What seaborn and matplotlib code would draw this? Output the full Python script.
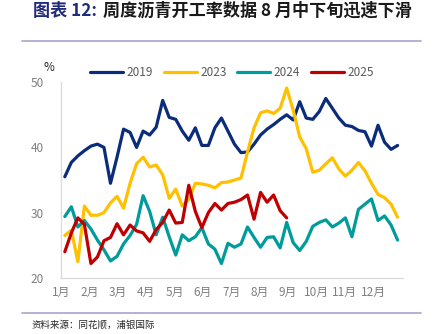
import numpy as np
import pandas as pd
import matplotlib
matplotlib.use("Agg")
import matplotlib.pyplot as plt
import seaborn as sns

# ---------------- data ----------------
years = ["2019", "2023", "2024", "2025"]
month_labels = ["1月", "2月", "3月", "4月", "5月", "6月", "7月", "8月", "9月", "10月", "11月", "12月"]

v2019 = [35.5, 37.7, 38.7, 39.5, 40.2, 40.5, 40.0, 34.5, 38.5, 42.8, 42.3, 40.0, 42.5,
         41.9, 43.1, 47.2, 44.6, 44.3, 42.5, 41.1, 43.0, 40.3, 40.3, 43.0, 44.5, 42.5,
         40.5, 39.2, 39.3, 40.5, 41.9, 42.8, 43.5, 44.3, 45.0, 44.2, 47.0, 44.5, 44.3,
         45.5, 47.5, 46.0, 44.5, 43.4, 43.2, 42.6, 42.4, 40.2, 43.4, 40.8, 39.7, 40.3]
v2023 = [26.5, 27.3, 22.5, 31.0, 29.6, 29.6, 30.0, 31.5, 32.5, 30.7, 34.5, 37.5, 38.5,
         37.0, 37.3, 35.8, 32.2, 33.6, 31.0, 32.0, 34.5, 34.4, 34.2, 33.8, 34.6, 34.7,
         35.0, 35.3, 39.3, 43.0, 45.3, 45.6, 45.2, 46.0, 49.1, 45.7, 41.6, 39.8, 36.2,
         36.5, 37.5, 38.4, 36.7, 35.6, 36.5, 37.7, 36.4, 34.5, 32.8, 32.3, 31.3, 29.3]
v2024 = [29.4, 30.9, 27.8, 28.8, 27.5, 25.8, 24.3, 22.6, 23.3, 25.2, 26.5, 28.2, 32.6,
         30.2, 26.6, 29.3, 26.3, 23.5, 26.6, 25.7, 26.3, 27.7, 25.2, 24.4, 22.2, 25.3,
         24.7, 25.2, 27.8, 26.2, 24.7, 26.2, 26.3, 24.6, 28.5, 25.4, 24.2, 25.6, 27.9,
         28.5, 28.9, 27.8, 28.4, 29.2, 26.3, 30.5, 31.3, 32.1, 28.8, 29.5, 28.1, 25.8]
v2025 = [24.0, 26.9, 29.2, 28.2, 22.2, 23.2, 25.7, 26.2, 28.3, 26.6, 28.1, 27.2, 26.9,
         25.6, 27.4, 28.5, 30.4, 28.4, 28.5, 34.2, 30.2, 27.7, 30.0, 31.4, 30.4, 31.4,
         31.6, 32.0, 32.7, 29.0, 33.1, 31.6, 32.7, 30.3, 29.2]

series = {"2019": v2019, "2023": v2023, "2024": v2024, "2025": v2025}
frames = []
for y in years:
    vals = series[y]
    frames.append(pd.DataFrame({"week": np.arange(len(vals)), "value": vals, "year": y}))
df = pd.concat(frames, ignore_index=True)

palette = {"2019": "#0A2C7A", "2023": "#FFC000", "2024": "#009B9B", "2025": "#C00000"}

# ---------------- figure ----------------
sns.set_theme(style="white")
plt.rcParams["font.family"] = ["Noto Sans CJK SC", "DejaVu Sans"]

fig = plt.figure(figsize=(4.35, 3.34), dpi=100)
ax = fig.add_axes([0.140, 0.168, 0.786, 0.586])

sns.lineplot(data=df, x="week", y="value", hue="year", hue_order=years,
             palette=palette, linewidth=2.3, ax=ax, legend=True, errorbar=None,
             sort=True)

ax.set_ylim(20, 50)
ax.set_xlim(-0.3, 51.8)
ax.set_yticks([20, 30, 40, 50])
tick_pos = [-0.6 + 4.35 * m for m in range(12)]
ax.set_xticks(tick_pos)
ax.set_xticklabels(month_labels)
ax.set_xlabel("")
ax.set_ylabel("")
ax.tick_params(axis="both", length=0, labelsize=8.5, labelcolor="#7F7F7F", pad=6)
ax.tick_params(axis="y", pad=12)

for s in ["top", "right"]:
    ax.spines[s].set_visible(False)
for s in ["left", "bottom"]:
    ax.spines[s].set_color("#D9D9D9")
    ax.spines[s].set_linewidth(0.9)

leg = ax.legend(loc="center", bbox_to_anchor=(0.5, 1.05), ncol=4, frameon=False,
                fontsize=8.5, handlelength=2.8, columnspacing=0.9, handletextpad=0.3,
                borderaxespad=0)
for t in leg.get_texts():
    t.set_color("#595959")
for l in leg.get_lines():
    l.set_linewidth(2.3)

# "%" unit label
fig.text(0.112, 0.797, "%", fontsize=8.5, color="#262626", ha="center", va="center")

# title (two pieces placed contiguously)
t1 = fig.text(0.076, 0.968, "图表 12:", fontsize=12.3, fontweight="bold", color="#1F2A7A",
              ha="left", va="center")
fig.canvas.draw()
bb = t1.get_window_extent()
x_next = (bb.x1 + 6) / fig.bbox.width
fig.text(x_next, 0.968, "周度沥青开工率数据 8 月中下旬迅速下滑", fontsize=12.3,
         fontweight="bold", color="#1a1a1a", ha="left", va="center")

# separator lines
fig.add_artist(plt.Line2D([0.05, 0.967], [0.877, 0.877], color="#A9A6CB", linewidth=1.2))
fig.add_artist(plt.Line2D([0.05, 0.967], [0.063, 0.063], color="#A9A6CB", linewidth=1.2))

# source
fig.text(0.072, 0.028, "资料来源：同花顺，浦银国际", fontsize=6.8, color="#262626",
         ha="left", va="center")

fig.savefig("out.png", dpi=100)
